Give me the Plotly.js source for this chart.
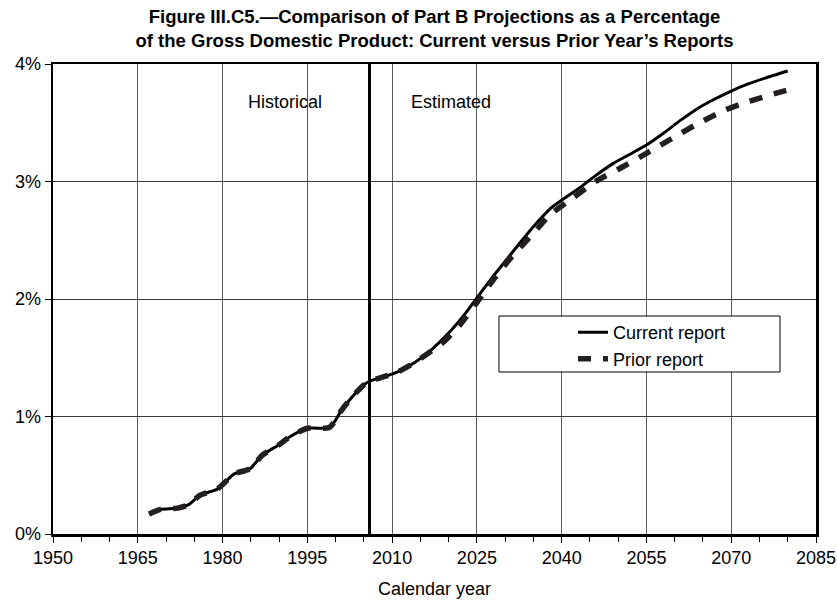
<!DOCTYPE html>
<html>
<head>
<meta charset="utf-8">
<script src="https://cdn.plot.ly/plotly-3.0.1.min.js"></script>
<style>
  html, body { margin: 0; padding: 0; background: #ffffff; }
  #chart { width: 837px; height: 602px; }
</style>
</head>
<body>
<div id="chart"></div>
<script>
// ---- Data (percent of GDP) ----
const currentYears = [1967, 1969, 1972, 1974, 1976, 1979, 1980, 1982, 1984, 1985, 1987, 1990, 1992, 1995, 1998, 1999, 2000, 2001, 2003, 2005, 2006, 2008, 2011, 2014, 2017, 2020, 2023, 2025, 2028, 2030, 2033, 2036, 2038, 2040, 2043, 2046, 2049, 2052, 2055, 2058, 2061, 2064, 2067, 2070, 2073, 2076, 2080];
const currentValues = [0.17, 0.21, 0.22, 0.25, 0.33, 0.38, 0.42, 0.51, 0.54, 0.56, 0.67, 0.76, 0.83, 0.90, 0.90, 0.91, 0.97, 1.05, 1.17, 1.27, 1.30, 1.33, 1.38, 1.46, 1.57, 1.71, 1.88, 2.01, 2.20, 2.32, 2.50, 2.67, 2.77, 2.84, 2.94, 3.05, 3.15, 3.23, 3.31, 3.41, 3.52, 3.62, 3.70, 3.77, 3.83, 3.88, 3.94];

const priorYears = [1967, 1969, 1972, 1974, 1976, 1979, 1980, 1982, 1984, 1985, 1987, 1990, 1992, 1995, 1998, 1999, 2000, 2001, 2003, 2005, 2006, 2008, 2011, 2014, 2017, 2019, 2022, 2025, 2028, 2031, 2035, 2038, 2042, 2046, 2051, 2055, 2060, 2064, 2069, 2073, 2080];
const priorValues = [0.17, 0.21, 0.22, 0.25, 0.33, 0.38, 0.42, 0.51, 0.54, 0.56, 0.67, 0.76, 0.83, 0.90, 0.90, 0.91, 0.97, 1.05, 1.17, 1.27, 1.30, 1.33, 1.38, 1.46, 1.56, 1.63, 1.78, 1.97, 2.17, 2.35, 2.56, 2.72, 2.86, 3.00, 3.13, 3.24, 3.38, 3.49, 3.61, 3.68, 3.78];

const seriesNames = ["Current report", "Prior report"];
const lastHistoricalYear = 2006;
const periodLabels = ["Historical", "Estimated"];
const periodLabelYears = [1991, 2020.4];
const periodLabelLevel = 3.68;

const FONT = "Liberation Sans, Arial, sans-serif";

const traces = [
  {
    x: currentYears, y: currentValues, name: seriesNames[0],
    type: "scatter", mode: "lines", legendgroup: "a",
    line: { color: "#000000", width: 3, shape: "spline", smoothing: 0.6 }
  },
  {
    x: priorYears, y: priorValues, name: seriesNames[1],
    type: "scatter", mode: "lines", legendgroup: "b",
    line: { color: "#231f20", width: 5.5, dash: "13px,12px", shape: "spline", smoothing: 0.6 }
  }
];

const layout = {
  width: 837, height: 602,
  margin: { l: 53, r: 21, t: 64, b: 68 },
  paper_bgcolor: "#ffffff", plot_bgcolor: "#ffffff",
  font: { family: FONT, size: 18, color: "#000000" },
  title: {
    text: "<b>Figure III.C5.—Comparison of Part B Projections as a Percentage<br>of the Gross Domestic Product: Current versus Prior Year’s Reports</b>",
    font: { family: FONT, size: 18.5, color: "#000000" },
    x: 0.5, xref: "paper", xanchor: "center",
    y: 0.962, yref: "container", yanchor: "top"
  },
  xaxis: {
    range: [1950, 2085], tick0: 1950, dtick: 15,
    showgrid: true, gridcolor: "#5a5a5a", gridwidth: 1,
    showline: true, linecolor: "#000000", linewidth: 2.5, mirror: true,
    ticks: "outside", ticklen: 6, tickwidth: 1, tickcolor: "#000000",
    minor: { dtick: 5, ticks: "outside", ticklen: 5, tickwidth: 1, tickcolor: "#000000", showgrid: false },
    zeroline: false,
    tickfont: { family: FONT, size: 18 },
    title: { text: "Calendar year", font: { family: FONT, size: 18 }, standoff: 16 }
  },
  yaxis: {
    range: [0, 4], dtick: 1, ticksuffix: "%",
    showgrid: true, gridcolor: "#3a3a3a", gridwidth: 1,
    showline: true, linecolor: "#000000", linewidth: 2.5, mirror: true,
    ticks: "outside", ticklen: 6, tickwidth: 1, tickcolor: "#000000",
    zeroline: false,
    tickfont: { family: FONT, size: 18 }
  },
  showlegend: true,
  legend: {
    x: 0.6815, xanchor: "left", y: 0.468, yanchor: "top",
    bgcolor: "rgba(0,0,0,0)", borderwidth: 0,
    traceorder: "grouped", tracegroupgap: 0,
    font: { family: FONT, size: 18, color: "#000000" }
  },
  shapes: [
    {
      type: "line", xref: "x", yref: "y",
      x0: lastHistoricalYear, x1: lastHistoricalYear, y0: 0, y1: 4,
      line: { color: "#000000", width: 3 }
    },
    {
      type: "rect", xref: "paper", yref: "paper",
      x0: 0.5845, x1: 0.9528, y0: 0.3447, y1: 0.4638,
      fillcolor: "#ffffff", line: { color: "#000000", width: 1 }, layer: "above"
    }
  ],
  annotations: periodLabels.map((t, i) => ({
    text: t, x: periodLabelYears[i], y: periodLabelLevel, xref: "x", yref: "y",
    showarrow: false, font: { family: FONT, size: 18, color: "#000000" }
  }))
};

Plotly.newPlot("chart", traces, layout, { displayModeBar: false, staticPlot: true });
</script>
</body>
</html>
